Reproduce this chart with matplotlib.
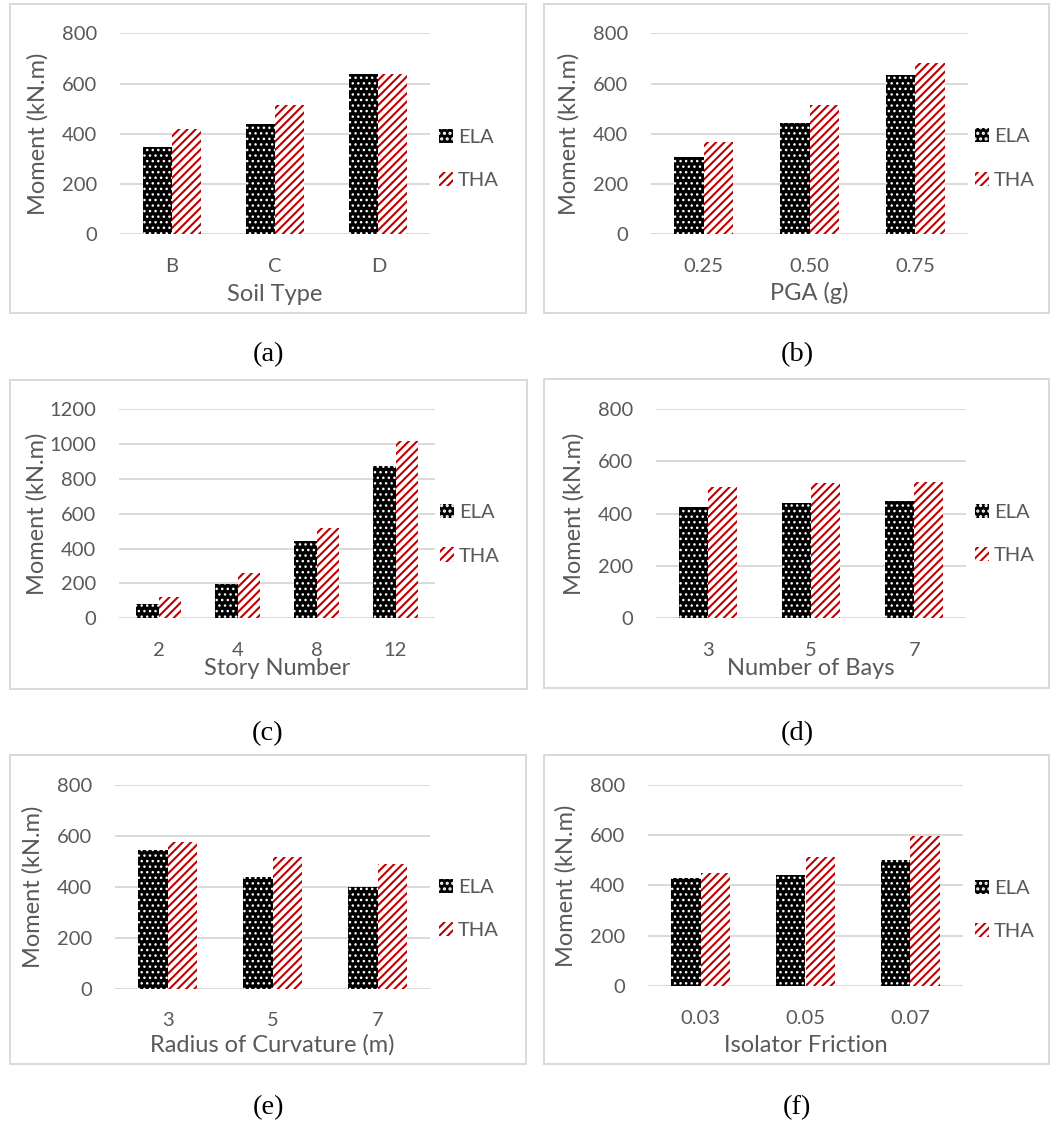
import numpy as np
import matplotlib
matplotlib.use("Agg")
import matplotlib.pyplot as plt
from matplotlib.patches import Rectangle

# values (moment, kN.m)
soil_types = ["B", "C", "D"]
soil_ela = [347, 440, 637]
soil_tha = [420, 513, 637]

pga_levels = ["0.25", "0.50", "0.75"]
pga_ela = [306, 442, 634]
pga_tha = [366, 515, 681]

stories = ["2", "4", "8", "12"]
story_ela = [80, 195, 443, 873]
story_tha = [124, 258, 516, 1017]

bays = ["3", "5", "7"]
bay_ela = [426, 442, 449]
bay_tha = [500, 516, 522]

radii = ["3", "5", "7"]
radius_ela = [544, 439, 398]
radius_tha = [575, 515, 490]

frictions = ["0.03", "0.05", "0.07"]
friction_ela = [428, 441, 500]
friction_tha = [448, 514, 596]

W, H = 1054, 1124
GREY = "#595959"
GRID = "#d9d9d9"
RED = "#c00000"
TICK_FS = 14.5

plt.rcParams["font.family"] = ["Lato", "DejaVu Sans"]
plt.rcParams["hatch.linewidth"] = 1.5

fig = plt.figure(figsize=(W / 100, H / 100), dpi=100)


def fbox(l, t, r, b):
    return [l / W, 1 - b / H, (r - l) / W, (b - t) / H]


def panel(cats, ela, tha, xlabel, ymax, ax_px, frame_px, leg_px, xlab_off, cap, cap_px):
    l, t, r, b = ax_px
    ax = fig.add_axes(fbox(l, t, r, b))
    x = np.arange(len(cats))
    w = 0.28
    b1 = ax.bar(x - w / 2, ela, w, color="black", edgecolor="white", hatch="...", lw=0, label="ELA", zorder=3)
    ax.bar(x + w / 2, tha, w, color="white", edgecolor=RED, hatch="////", lw=0, label="THA", zorder=3)
    # thinner hatch for the dots if this matplotlib allows it per bar
    for p in b1:
        if hasattr(p, "set_hatch_linewidth"):
            p.set_hatch_linewidth(1.0)
    ax.set_xlim(-0.5, len(cats) - 0.5)
    ax.set_ylim(0, ymax)
    ax.set_yticks(np.arange(0, ymax + 1, 200))
    ax.set_xticks(x)
    ax.set_xticklabels(cats)
    ax.yaxis.grid(True, color=GRID, lw=1.4, zorder=0)
    ax.set_axisbelow(True)
    for s in ax.spines.values():
        s.set_visible(False)
    ax.tick_params(axis="both", length=0, labelsize=TICK_FS, labelcolor=GREY)
    ax.tick_params(axis="x", pad=17)
    ax.tick_params(axis="y", pad=16.5)
    ax.set_ylabel("Moment (kN.m)", fontsize=17, color=GREY, va="center")
    ax.yaxis.set_label_coords(-82 / (r - l), 0.5)
    ax.set_xlabel(xlabel, fontsize=17, color=GREY, va="center")
    ax.xaxis.set_label_coords(0.5, -xlab_off / (b - t))

    lx, ly1, ly2 = leg_px
    ax.legend(loc="center left", bbox_to_anchor=(lx / W, 1 - (ly1 + ly2) / 2 / H),
              bbox_transform=fig.transFigure, frameon=False, fontsize=TICK_FS,
              labelcolor=GREY, handlelength=0.7, handleheight=0.7,
              handletextpad=0.25, labelspacing=1.3, borderpad=0, borderaxespad=0)

    fl, ft, fr, fb = frame_px
    fig.add_artist(Rectangle((fl / W, 1 - fb / H), (fr - fl) / W, (fb - ft) / H,
                             transform=fig.transFigure, fill=False, ec=GRID, lw=1.4))
    fig.text(cap_px[0] / W, 1 - cap_px[1] / H, cap, ha="center", va="center",
             fontsize=20.5, family="Liberation Serif", color="black")


panel(soil_types, soil_ela, soil_tha, "Soil Type", 800,
      (120, 33.3, 430, 234.3), (10, 4, 526, 313), (439, 136, 181.7), 60, "(a)", (268, 355))
panel(pga_levels, pga_ela, pga_tha, "PGA (g)", 800,
      (651, 33.3, 968, 234.3), (544, 4, 1049, 313), (975, 136, 181), 59, "(b)", (797, 355))
panel(stories, story_ela, story_tha, "Story Number", 1200,
      (119, 409, 435, 618.3), (10, 380, 527, 689), (440, 512, 556.7), 50, "(c)", (268, 734))
panel(bays, bay_ela, bay_tha, "Number of Bays", 800,
      (656, 409, 966, 618.3), (544, 379, 1049, 688), (975, 511, 556.7), 50, "(d)", (797, 734))
panel(radii, radius_ela, radius_tha, "Radius of Curvature (m)", 800,
      (115, 784.7, 430, 988.7), (10, 755, 526, 1064), (439, 886.7, 931.7), 56, "(e)", (268, 1108))
panel(frictions, friction_ela, friction_tha, "Isolator Friction", 800,
      (648, 784.7, 963, 986), (544, 755, 1049, 1064), (975, 887.7, 931.7), 59, "(f)", (797, 1108))

fig.savefig("out.png", dpi=100, facecolor="white")
